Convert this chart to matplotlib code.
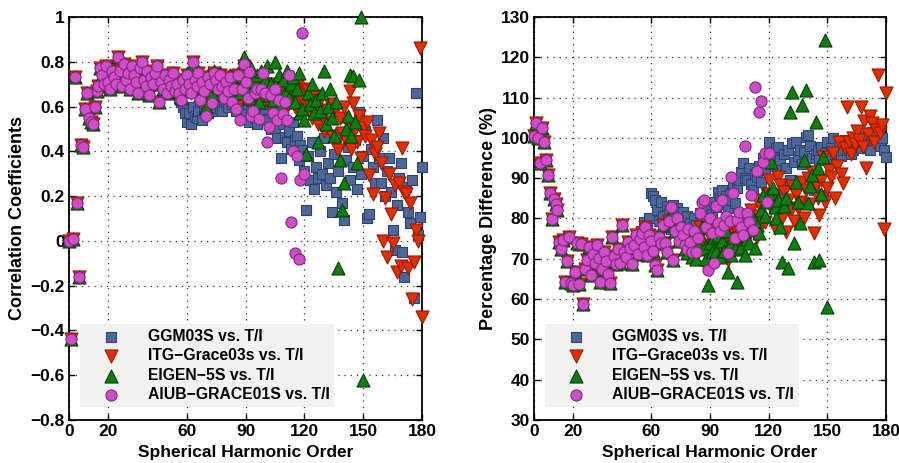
import numpy as np
import matplotlib
matplotlib.use("Agg")
import matplotlib.pyplot as plt

plt.rcParams['font.family'] = ['Liberation Sans', 'DejaVu Sans']
plt.rcParams['font.weight'] = 'bold'

# ---- data: spherical harmonic orders 0..54 are (nearly) identical for all models
corr_low = [
    0.00, -0.44, 0.01, 0.73, 0.17, -0.16, 0.43, 0.42, 0.59, 0.66,
    0.55, 0.53, 0.52, 0.60, 0.67, 0.69, 0.77, 0.74, 0.70, 0.78,
    0.71, 0.68, 0.76, 0.73, 0.70, 0.82, 0.76, 0.69, 0.79, 0.72,
    0.75, 0.68, 0.78, 0.74, 0.71, 0.66, 0.77, 0.80, 0.72, 0.69,
    0.76, 0.65, 0.73, 0.70, 0.75, 0.78, 0.62, 0.71, 0.68, 0.74,
    0.66, 0.72, 0.69, 0.75, 0.67]

# orders 55..180
corr_ggm = [
    0.68, 0.64, 0.62, 0.60, 0.57, 0.53, 0.57, 0.52, 0.60, 0.56,
    0.55, 0.58, 0.62, 0.54, 0.59, 0.63, 0.57, 0.61, 0.58, 0.65,
    0.60, 0.63, 0.59, 0.58, 0.66, 0.62, 0.60, 0.67, 0.61, 0.64,
    0.58, 0.62, 0.66, 0.60, 0.63, 0.57, 0.61, 0.53, 0.58, 0.62,
    0.55, 0.52, 0.60, 0.56, 0.63, 0.59, 0.54, 0.61, 0.50, 0.57,
    0.50, 0.46, 0.55, 0.37, 0.52, 0.465, 0.44, 0.49, 0.41, 0.53,
    0.45, 0.47, 0.36, 0.43, 0.405, 0.31, 0.14, 0.38, 0.27, 0.44,
    0.23, 0.33, 0.28, 0.40, 0.30, 0.46, 0.25, 0.35, 0.28, 0.13,
    0.39, 0.22, 0.31, 0.48, 0.17, 0.095, 0.36, 0.42, 0.27, 0.52,
    0.33, 0.45, 0.23, 0.575, 0.30, 0.38, 0.49, 0.10, 0.12, 0.41,
    0.33, 0.26, 0.54, 0.37, 0.26, 0.46, 0.20, 0.31, 0.37, 0.22,
    0.05, -0.04, 0.16, 0.28, 0.35, -0.05, -0.16, 0.24, 0.13, 0.08,
    0.27, -0.255, 0.66, 0.025, 0.107, 0.33]

corr_itg = [
    0.70, 0.66, 0.63, 0.72, 0.68, 0.74, 0.70, 0.66, 0.80, 0.72,
    0.69, 0.75, 0.64, 0.71, 0.67, 0.58, 0.73, 0.70, 0.65, 0.75,
    0.72, 0.68, 0.74, 0.69, 0.64, 0.71, 0.67, 0.73, 0.63, 0.70,
    0.66, 0.74, 0.63, 0.68, 0.78, 0.71, 0.66, 0.62, 0.69, 0.64,
    0.68, 0.72, 0.65, 0.69, 0.62, 0.70, 0.66, 0.61, 0.68, 0.64,
    0.70, 0.60, 0.67, 0.63, 0.69, 0.58, 0.65, 0.71, 0.62, 0.67,
    0.60, 0.69, 0.64, 0.57, 0.66, 0.62, 0.68, 0.67, 0.60, 0.55,
    0.645, 0.58, 0.52, 0.63, 0.56, 0.49, 0.585, 0.53, 0.61, 0.47,
    0.57, 0.43, 0.405, 0.55, 0.48, 0.60, 0.45, 0.52, 0.67, 0.41,
    0.615, 0.50, 0.44, 0.56, 0.37, 0.51, 0.47, 0.53, 0.295, 0.45,
    0.21, 0.39, 0.42, 0.48, 0.35, 0.00, 0.19, -0.07, 0.30, 0.12,
    -0.01, 0.25, -0.14, 0.26, -0.11, 0.415, 0.22, 0.21, -0.12, 0.17,
    -0.26, -0.095, 0.05, 0.00, 0.86, -0.34]

# orders 55..150
corr_eigen = [
    0.71, 0.67, 0.64, 0.73, 0.69, 0.75, 0.71, 0.67, 0.79, 0.73,
    0.70, 0.76, 0.65, 0.72, 0.68, 0.60, 0.74, 0.71, 0.66, 0.76,
    0.73, 0.69, 0.75, 0.70, 0.65, 0.72, 0.68, 0.74, 0.66, 0.71,
    0.68, 0.75, 0.66, 0.70, 0.82, 0.73, 0.68, 0.64, 0.77, 0.66,
    0.71, 0.74, 0.62, 0.76, 0.67, 0.72, 0.78, 0.65, 0.70, 0.63,
    0.80, 0.68, 0.74, 0.61, 0.72, 0.66, 0.76, 0.64, 0.70, 0.73,
    0.62, 0.68, 0.75, 0.57, 0.59, 0.54, 0.39, 0.66, 0.61, 0.70,
    0.57, 0.63, 0.44, 0.58, 0.66, 0.76, 0.52, 0.60, 0.68, 0.55,
    0.47, 0.62, -0.12, 0.36, 0.14, 0.26, 0.50, 0.56, 0.74, 0.47,
    0.735, 0.53, 0.35, 0.72, 1.00, -0.62]

# orders 55..120
corr_aiub = [
    0.70, 0.66, 0.63, 0.72, 0.68, 0.74, 0.70, 0.66, 0.80, 0.72,
    0.69, 0.75, 0.63, 0.71, 0.67, 0.56, 0.73, 0.70, 0.615, 0.75,
    0.72, 0.68, 0.74, 0.69, 0.64, 0.71, 0.67, 0.73, 0.62, 0.68,
    0.59, 0.74, 0.54, 0.68, 0.79, 0.71, 0.64, 0.755, 0.56, 0.58,
    0.66, 0.68, 0.545, 0.68, 0.75, 0.66, 0.44, 0.51, 0.65, 0.57,
    0.68, 0.54, 0.63, 0.28, 0.565, 0.62, 0.54, 0.74, 0.085, 0.40,
    -0.055, 0.38, -0.08, 0.27, 0.93, 0.30]

pct_low = [
    100.5, 103.7, 100.0, 93.8, 102.4, 99.0, 94.5, 90.8, 86.3, 79.8,
    84.8, 83.6, 82.1, 74.2, 72.4, 74.6, 64.2, 69.5, 75.4, 64.0,
    63.5, 66.7, 74.0, 63.8, 73.6, 58.8, 67.5, 69.8, 73.0, 66.0,
    71.2, 68.9, 73.4, 70.2, 64.2, 67.4, 71.8, 69.5, 66.3, 64.0,
    75.4, 70.8, 68.6, 72.5, 69.0, 78.4, 71.7, 70.5, 74.2, 72.8,
    68.7, 73.5, 76.0, 71.2, 74.8]

pct_ggm = [
    77.0, 79.1, 76.0, 78.5, 80.0, 86.3, 85.5, 84.5, 82.0, 79.5,
    84.0, 80.5, 78.0, 83.0, 81.0, 77.5, 83.4, 79.0, 82.5, 80.0,
    76.5, 81.5, 78.0, 80.5, 76.0, 79.0, 76.6, 80.0, 78.5, 77.0,
    81.4, 79.5, 82.0, 80.0, 83.0, 78.5, 81.0, 84.0, 82.9, 86.6,
    85.0, 87.0, 83.5, 85.5, 82.5, 86.0, 84.6, 88.0, 83.8, 87.6,
    89.5, 91.5, 93.8, 90.0, 89.5, 92.5, 88.5, 87.0, 91.0, 90.3,
    93.0, 89.0, 95.0, 92.0, 94.5, 99.0, 95.8, 96.5, 93.0, 97.5,
    97.7, 94.5, 86.3, 96.0, 92.5, 97.0, 89.5, 98.7, 94.0, 99.0,
    95.5, 97.0, 93.5, 96.5, 100.2, 100.7, 98.0, 95.0, 87.0, 96.0,
    97.0, 94.5, 97.7, 85.8, 96.3, 99.0, 95.0, 97.5, 100.0, 96.0,
    96.5, 98.0, 95.5, 97.0, 99.5, 97.0, 98.5, 96.0, 97.0, 99.0,
    98.0, 100.0, 97.5, 99.0, 100.5, 98.0, 101.0, 97.0, 101.5, 99.5,
    100.2, 103.0, 98.0, 100.0, 97.0, 95.3]

pct_itg = [
    76.4, 73.0, 77.9, 71.0, 76.0, 74.5, 72.0, 68.5, 67.2, 75.5,
    73.8, 78.4, 74.0, 71.7, 79.5, 81.5, 69.7, 77.0, 79.0, 74.5,
    77.0, 75.0, 73.0, 72.0, 76.0, 73.5, 71.0, 75.5, 70.5, 74.0,
    78.0, 76.5, 73.5, 68.0, 71.5, 75.4, 73.0, 77.0, 75.4, 72.5,
    78.5, 74.0, 76.5, 73.0, 69.7, 77.5, 74.5, 79.0, 76.0, 72.5,
    78.0, 75.5, 80.0, 74.0, 76.7, 79.5, 82.0, 77.0, 80.5, 75.4,
    83.5, 78.5, 84.5, 79.1, 86.0, 89.5, 82.5, 85.0, 77.6, 83.0,
    90.3, 88.3, 80.0, 86.6, 76.7, 84.5, 81.6, 88.0, 79.5, 86.0,
    82.5, 84.0, 89.0, 80.0, 87.0, 90.0, 83.5, 91.5, 76.4, 88.5,
    85.0, 80.9, 89.5, 95.3, 84.0, 87.6, 92.0, 90.3, 96.3, 85.0,
    93.0, 99.0, 91.0, 88.8, 97.5, 107.7, 99.0, 96.0, 100.0, 98.5,
    101.7, 99.5, 107.7, 97.7, 104.2, 92.5, 101.0, 105.5, 103.7, 99.0,
    102.0, 115.6, 101.2, 103.2, 77.4, 111.2]

pct_eigen = [
    76.4, 73.0, 77.9, 71.0, 76.0, 74.5, 72.0, 68.5, 67.2, 75.5,
    73.8, 78.4, 74.0, 71.7, 79.5, 81.0, 69.7, 77.0, 78.5, 74.5,
    76.5, 75.0, 72.5, 71.5, 75.5, 73.0, 70.5, 75.0, 70.0, 73.5,
    76.0, 77.9, 72.5, 70.0, 63.5, 74.0, 71.7, 75.5, 72.0, 76.0,
    70.5, 74.5, 72.0, 77.0, 66.7, 73.5, 71.0, 75.5, 72.5, 64.2,
    76.0, 73.0, 78.0, 71.0, 75.0, 73.9, 77.5, 80.0, 72.7, 78.5,
    76.4, 82.0, 85.8, 80.5, 84.0, 86.3, 94.0, 87.6, 82.9, 80.0,
    84.5, 78.0, 69.2, 83.0, 85.0, 67.7, 106.4, 111.4, 73.9, 89.0,
    84.0, 79.0, 108.2, 94.5, 112.0, 83.8, 88.0, 90.8, 69.2, 104.0,
    92.5, 69.7, 86.0, 95.3, 124.3, 58.0]

pct_aiub = [
    76.4, 73.0, 77.9, 71.0, 76.0, 74.5, 72.0, 68.5, 67.2, 75.5,
    73.8, 78.4, 74.0, 71.7, 79.5, 82.9, 69.7, 77.0, 80.1, 74.5,
    78.0, 76.0, 73.5, 72.4, 77.5, 74.2, 71.7, 76.8, 71.7, 75.2,
    81.4, 84.0, 84.6, 78.0, 67.2, 80.1, 76.5, 69.0, 83.0, 79.0,
    77.0, 84.6, 78.4, 80.5, 71.4, 79.5, 90.3, 86.3, 75.2, 79.6,
    81.6, 78.0, 75.9, 98.0, 81.4, 79.1, 85.8, 77.1, 112.6, 91.8,
    106.5, 109.2, 94.0, 96.3, 84.0, 96.3]

labels = ['GGM03S vs. T/I', 'ITG\u2212Grace03s vs. T/I',
          'EIGEN\u22125S vs. T/I', 'AIUB\u2212GRACE01S vs. T/I']
xticks = [0, 20, 60, 90, 120, 150, 180]
corr_ticks = [-0.8, -0.6, -0.4, -0.2, 0, 0.2, 0.4, 0.6, 0.8, 1]
corr_ticklabels = ['\u22120.8', '\u22120.6', '\u22120.4', '\u22120.2', '0',
                   '0.2', '0.4', '0.6', '0.8', '1']
pct_ticks = [30, 40, 50, 60, 70, 80, 90, 100, 110, 120, 130]

styles = [
    dict(marker='s', s=55, c='#4d6898', edgecolors='#2c4373'),
    dict(marker='v', s=88, c='#e03000', edgecolors='#a01800'),
    dict(marker='^', s=88, c='#0e7f0e', edgecolors='#034003'),
    dict(marker='o', s=64, c='#d04cc8', edgecolors='#7d2a7a'),
]


def draw(ax, low, series, yticks, yticklabels, ylim, ylabel):
    for vals, st, lab in zip(series, styles, labels):
        y = np.array(low + vals)
        x = np.arange(len(y))
        ax.scatter(x, y, linewidths=0.8, label=lab, clip_on=False,
                   zorder=3, **st)
    ax.set_xlim(0, 180)
    ax.set_ylim(*ylim)
    ax.set_xticks(xticks)
    ax.set_yticks(yticks)
    ax.set_yticklabels(yticklabels)
    ax.grid(True, color='#333333', linestyle=(0, (1, 4)), linewidth=0.9)
    ax.set_axisbelow(True)
    ax.tick_params(direction='in', top=True, right=True, length=4,
                   width=1, labelsize=12.5, pad=3)
    for sp in ax.spines.values():
        sp.set_linewidth(1.3)
    ax.set_xlabel('Spherical Harmonic Order', fontsize=12.5,
                  fontweight='bold', labelpad=4)
    ax.set_ylabel(ylabel, fontsize=13, fontweight='bold', labelpad=3)
    leg = ax.legend(loc='lower left', bbox_to_anchor=(0.008, 0.012),
                    frameon=True, fancybox=False, framealpha=1,
                    facecolor='#f2f2f2', edgecolor='none', fontsize=11.3,
                    handletextpad=0.6, labelspacing=0.28, borderpad=0.32,
                    handlelength=3.4, scatterpoints=1)
    leg.set_zorder(5)


fig = plt.figure(figsize=(8.99, 4.63), dpi=100)
ax1 = fig.add_axes([0.0768, 0.0929, 0.3927, 0.8704])
ax2 = fig.add_axes([0.594, 0.0929, 0.3915, 0.8704])

draw(ax1, corr_low, [corr_ggm, corr_itg, corr_eigen, corr_aiub],
     corr_ticks, corr_ticklabels, (-0.8, 1), 'Correlation Coefficients')
draw(ax2, pct_low, [pct_ggm, pct_itg, pct_eigen, pct_aiub],
     pct_ticks, [str(t) for t in pct_ticks], (30, 130),
     'Percentage Difference (%)')

fig.savefig('out.png', dpi=100)
